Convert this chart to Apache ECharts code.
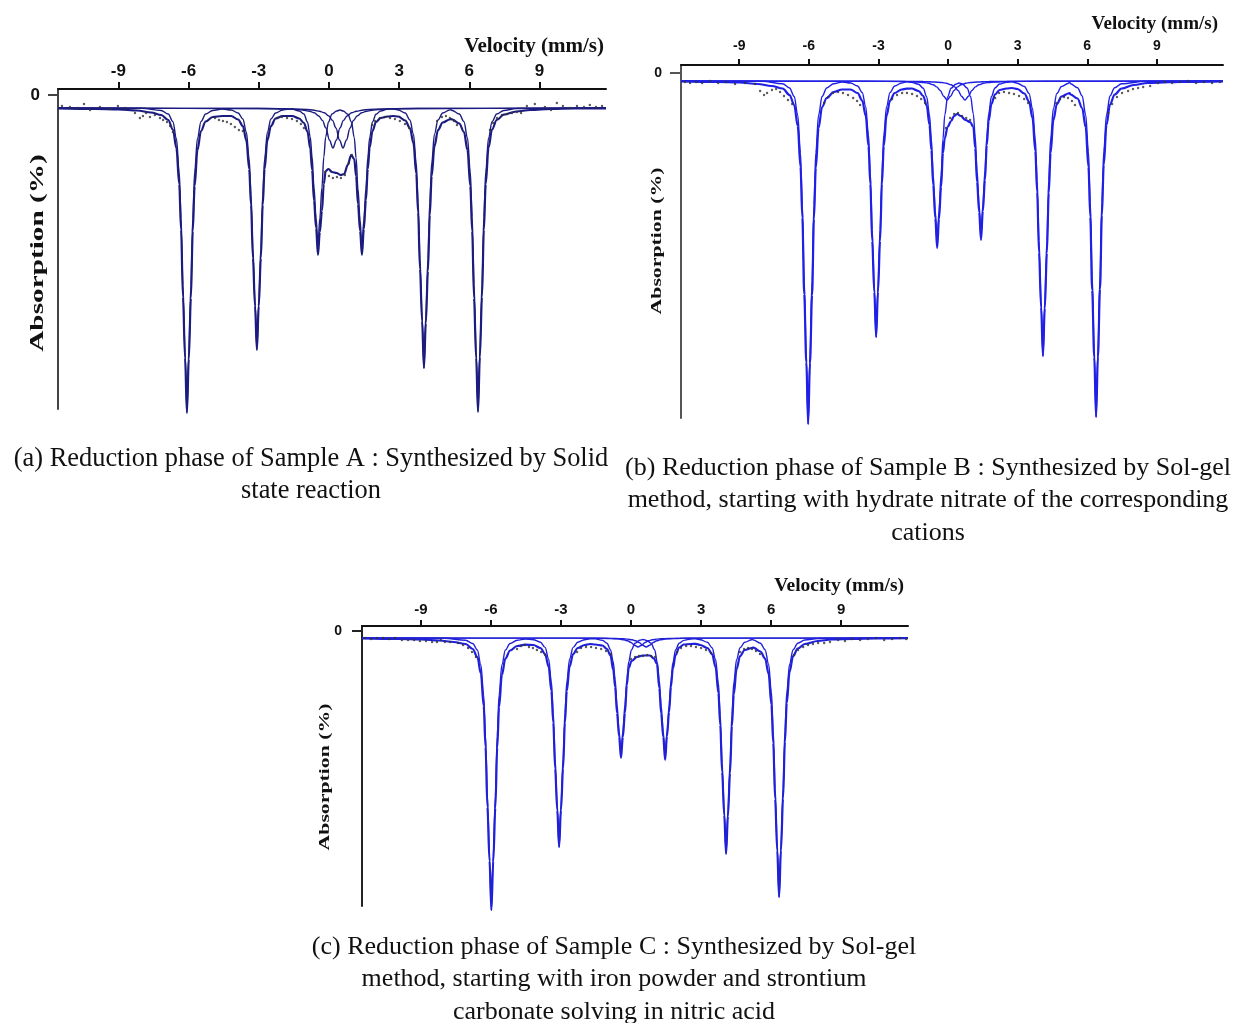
<!DOCTYPE html>
<html>
<head>
<meta charset="utf-8">
<script src="https://cdn.jsdelivr.net/npm/echarts@6/dist/echarts.min.js"></script>
<style>
html,body{margin:0;padding:0;background:#fff;}
#chart{width:1234px;height:1023px;}
</style>
</head>
<body>
<div id="chart"></div>
<script>
// ---------- DATA (velocity mm/s, relative absorption; larger = deeper) ----------
const velocityTicks = [-9, -6, -3, 0, 3, 6, 9];
const absorptionTicks = [0];

// Panel (a) Sample A
const fitA = [[-11.58,1.35],[-10,1.4],[-9,1.45],[-8.2,1.55],[-7.6,1.75],[-7.17,2.0],[-6.87,2.5],[-6.67,3.45],[-6.52,5.3],[-6.40,8.9],[-6.32,13.5],[-6.24,20.2],[-6.15,26.3],[-6.07,31.8],[-5.99,26.4],[-5.90,20.3],[-5.82,13.6],[-5.74,9.1],[-5.62,5.5],[-5.47,3.6],[-5.27,2.65],[-4.97,2.2],[-4.57,2.1],
[-4.18,2.1],[-3.88,2.45],[-3.68,3.1],[-3.53,4.55],[-3.41,7.4],[-3.33,11.0],[-3.25,16.3],[-3.16,21.1],[-3.08,25.5],[-3.00,21.1],[-2.91,16.3],[-2.83,11.0],[-2.75,7.4],[-2.63,4.5],[-2.48,3.1],[-2.28,2.35],[-1.98,2.1],[-1.78,2.1],
[-1.57,2.1],[-1.27,2.35],[-1.07,2.8],[-0.92,3.65],[-0.80,5.35],[-0.72,7.5],[-0.64,10.55],[-0.55,13.3],[-0.47,16.0],[-0.39,13.7],[-0.30,11.6],[-0.22,8.9],[-0.14,7.6],[-0.02,7.4],[0.13,7.7],[0.33,7.8],[0.5,8.0],[0.65,7.9],[0.8,7.0],[0.95,6.0],
[1.08,6.4],[1.16,8.1],[1.24,10.9],[1.33,13.6],[1.41,16.0],[1.49,13.4],[1.58,10.5],[1.66,7.4],[1.74,5.25],[1.86,3.6],[2.01,2.7],[2.21,2.3],[2.51,2.15],[2.735,2.1],
[2.96,2.15],[3.26,2.55],[3.46,3.3],[3.61,4.8],[3.73,7.85],[3.81,11.75],[3.89,17.4],[3.98,22.6],[4.06,27.3],[4.14,22.8],[4.23,17.6],[4.31,12.0],[4.39,8.1],[4.51,5.1],[4.66,3.5],[4.86,2.75],[5.16,2.45],[5.215,2.4],
[5.27,2.45],[5.57,2.85],[5.77,3.7],[5.92,5.5],[6.04,9.1],[6.12,13.6],[6.20,20.3],[6.29,26.3],[6.37,31.7],[6.45,26.2],[6.54,20.2],[6.62,13.5],[6.70,8.9],[6.82,5.25],[6.97,3.45],[7.17,2.5],[7.47,1.97],[8.0,1.65],[8.6,1.5],[9.5,1.4],[10.5,1.35],[11.84,1.33]];
const sextetA = [[-11.58,1.3],[-8,1.32],[-7.17,1.55],[-6.87,1.9],[-6.67,2.67],[-6.52,4.35],[-6.40,7.7],[-6.32,12.3],[-6.24,19.0],[-6.15,25.7],[-6.07,31.6],[-5.99,25.7],[-5.90,19.0],[-5.82,12.3],[-5.74,7.7],[-5.62,4.35],[-5.47,2.67],[-5.27,1.9],[-4.97,1.55],[-4.57,1.4],
[-4.18,1.5],[-3.88,1.8],[-3.68,2.4],[-3.53,3.7],[-3.41,6.4],[-3.33,10.0],[-3.25,15.3],[-3.16,20.7],[-3.08,25.3],[-3.00,20.7],[-2.91,15.3],[-2.83,10.0],[-2.75,6.4],[-2.63,3.7],[-2.48,2.4],[-2.28,1.8],[-1.98,1.5],[-1.78,1.42],
[-1.57,1.4],[-1.27,1.6],[-1.07,1.9],[-0.92,2.7],[-0.80,4.2],[-0.72,6.2],[-0.64,9.25],[-0.55,12.3],[-0.47,15.0],[-0.39,12.3],[-0.30,9.25],[-0.22,6.2],[-0.14,4.2],[-0.02,2.7],[0.13,1.9],[0.33,1.6],[0.47,1.5],
[0.61,1.6],[0.81,1.93],[0.96,2.7],[1.08,4.25],[1.16,6.3],[1.24,9.4],[1.33,12.5],[1.41,15.3],[1.49,12.5],[1.58,9.4],[1.66,6.3],[1.74,4.25],[1.86,2.7],[2.01,1.93],[2.21,1.6],[2.51,1.4],[2.735,1.38],
[2.96,1.5],[3.26,1.8],[3.46,2.5],[3.61,3.9],[3.73,6.8],[3.81,10.7],[3.89,16.4],[3.98,22.1],[4.06,27.3],[4.14,22.1],[4.23,16.4],[4.31,10.7],[4.39,6.8],[4.51,3.9],[4.66,2.5],[4.86,1.8],[5.16,1.5],[5.215,1.48],
[5.27,1.55],[5.57,1.9],[5.77,2.67],[5.92,4.3],[6.04,7.7],[6.12,12.2],[6.20,18.9],[6.29,25.6],[6.37,31.5],[6.45,25.6],[6.54,18.9],[6.62,12.2],[6.70,7.7],[6.82,4.3],[6.97,2.67],[7.17,1.9],[7.47,1.55],[8.0,1.35],[11.84,1.3]];
const doubletA1 = [[-11.58,1.3],[-3,1.35],[-1.63,1.41],[-1.13,1.5],[-0.83,1.62],[-0.63,1.78],[-0.43,2.1],[-0.28,2.54],[-0.13,3.3],[0.02,4.5],[0.17,5.3],[0.32,4.5],[0.47,3.3],[0.62,2.54],[0.77,2.1],[0.97,1.78],[1.17,1.62],[1.47,1.5],[1.97,1.41],[3.3,1.35],[11.84,1.3]];
const doubletA2 = [[-11.58,1.3],[-2.6,1.35],[-1.2,1.41],[-0.7,1.5],[-0.4,1.62],[-0.2,1.78],[0.0,2.1],[0.15,2.54],[0.3,3.3],[0.45,4.5],[0.6,5.3],[0.75,4.5],[0.9,3.3],[1.05,2.54],[1.2,2.1],[1.4,1.78],[1.6,1.62],[1.9,1.5],[2.4,1.41],[3.8,1.35],[11.84,1.3]];
const pointsA = [[-11.41,1.1],[-11.07,1.2],[-10.73,1.3],[-10.47,0.9],[-10.21,1.5],[-9.79,1.2],[-9.36,1.4],[-9.02,1.1],[-8.72,1.3],[-8.29,1.8],[-8.08,2.3],[-7.95,2.1],[-7.82,1.8],[-7.65,2.2],[-7.44,2.0],[-7.22,2.3],[-7.09,2.5],[-6.92,2.7],[-6.79,3.1],[-6.67,3.7],
[-4.87,2.3],[-4.70,2.5],[-4.53,2.6],[-4.36,2.7],[-4.19,2.9],[-4.02,3.2],[-3.85,3.5],[-3.68,3.6],
[-2.22,2.3],[-2.01,2.2],[-1.79,2.3],[-1.58,2.4],[-1.37,2.6],[-1.20,2.9],[-1.07,3.3],
[-0.17,7.7],[0.0,8.1],[0.17,8.3],[0.34,8.2],[0.51,8.3],[0.68,8.0],[0.85,6.8],[0.98,6.0],
[1.84,3.0],[1.97,2.6],[2.18,2.3],[2.39,2.2],[2.61,2.3],[2.82,2.4],[3.03,2.6],[3.25,2.9],[3.42,3.3],
[4.62,2.6],[4.83,2.2],[5.0,2.1],[5.17,2.3],[5.34,2.6],[5.47,3.0],
[6.88,3.5],[7.01,2.8],[7.18,2.3],[7.39,2.0],[7.61,1.9],[7.82,1.8],[8.03,1.7],[8.21,1.8],
[8.46,1.1],[8.80,0.9],[9.23,1.2],[9.49,1.5],[9.74,0.8],[10.0,1.1],[10.3,1.3],[10.6,1.1],[10.9,1.2],[11.15,1.0],[11.41,1.2],[11.67,1.1]];

// Panel (b) Sample B
const fitB = [[-11.51,0.85],[-10,0.9],[-9,0.95],[-8.2,1.1],[-7.6,1.3],[-7.13,1.55],[-6.83,2.2],[-6.63,3.2],[-6.48,5.3],[-6.36,9.4],[-6.28,14.5],[-6.20,22.1],[-6.11,28.9],[-6.03,35.1],[-5.95,29.0],[-5.86,22.2],[-5.78,14.6],[-5.70,9.5],[-5.58,5.5],[-5.43,3.4],[-5.23,2.5],[-4.93,1.9],[-4.565,1.65],
[-4.20,1.65],[-3.90,2.0],[-3.70,2.75],[-3.55,4.25],[-3.43,7.3],[-3.35,11.1],[-3.27,16.8],[-3.18,21.9],[-3.10,26.4],[-3.02,21.9],[-2.93,16.8],[-2.85,11.1],[-2.77,7.3],[-2.65,4.25],[-2.50,2.75],[-2.30,2.0],[-2.00,1.65],[-1.785,1.57],
[-1.57,1.55],[-1.27,1.8],[-1.07,2.3],[-0.92,3.25],[-0.80,5.2],[-0.72,7.7],[-0.64,11.2],[-0.55,14.5],[-0.47,17.5],[-0.39,14.6],[-0.30,11.4],[-0.22,8.0],[-0.14,6.5],[-0.02,5.4],[0.13,4.8],[0.26,4.3],[0.39,4.1],[0.55,4.3],[0.75,4.7],[0.95,4.9],
[1.09,5.4],[1.17,7.5],[1.25,10.9],[1.34,13.9],[1.42,16.7],[1.50,13.8],[1.59,10.7],[1.67,7.2],[1.75,4.8],[1.87,3.1],[2.02,2.15],[2.22,1.7],[2.52,1.55],[2.755,1.5],
[2.99,1.6],[3.29,2.05],[3.49,2.85],[3.64,4.5],[3.76,7.8],[3.84,11.9],[3.92,17.95],[4.01,23.45],[4.09,28.3],[4.17,23.5],[4.26,18.0],[4.34,12.0],[4.42,8.0],[4.54,4.7],[4.69,3.1],[4.89,2.35],[5.19,2.05],[5.235,2.0],
[5.28,2.15],[5.58,2.55],[5.78,3.5],[5.93,5.4],[6.05,9.4],[6.13,14.4],[6.21,21.7],[6.30,28.4],[6.38,34.4],[6.46,28.35],[6.55,21.6],[6.63,14.25],[6.71,9.2],[6.83,5.2],[6.98,3.15],[7.18,2.15],[7.48,1.55],[8.0,1.2],[8.6,1.0],[9.5,0.92],[10.5,0.88],[11.85,0.85]];
const sextetB = [[-11.51,0.8],[-8,0.82],[-7.13,1.07],[-6.83,1.5],[-6.63,2.35],[-6.48,4.2],[-6.36,8.0],[-6.28,13.15],[-6.20,20.7],[-6.11,28.2],[-6.03,35.1],[-5.95,28.2],[-5.86,20.7],[-5.78,13.15],[-5.70,8.0],[-5.58,4.2],[-5.43,2.35],[-5.23,1.5],[-4.93,1.07],[-4.565,0.9],
[-4.20,1.0],[-3.90,1.3],[-3.70,1.95],[-3.55,3.35],[-3.43,6.2],[-3.35,10.0],[-3.27,15.65],[-3.18,21.3],[-3.10,26.4],[-3.02,21.3],[-2.93,15.65],[-2.85,10.0],[-2.77,6.2],[-2.65,3.35],[-2.50,1.95],[-2.30,1.3],[-2.00,1.0],[-1.785,0.88],
[-1.57,0.93],[-1.27,1.12],[-1.07,1.53],[-0.92,2.4],[-0.80,4.2],[-0.72,6.6],[-0.64,10.2],[-0.55,13.8],[-0.47,17.0],[-0.39,13.8],[-0.30,10.2],[-0.22,6.6],[-0.14,4.2],[-0.02,2.4],[0.13,1.53],[0.33,1.12],[0.475,1.0],
[0.62,1.1],[0.82,1.5],[0.97,2.35],[1.09,4.1],[1.17,6.4],[1.25,9.8],[1.34,13.2],[1.42,16.3],[1.50,13.2],[1.59,9.8],[1.67,6.4],[1.75,4.1],[1.87,2.35],[2.02,1.5],[2.22,1.1],[2.52,0.92],[2.755,0.88],
[2.99,1.02],[3.29,1.35],[3.49,2.04],[3.64,3.55],[3.76,6.6],[3.84,10.7],[3.92,16.75],[4.01,22.8],[4.09,28.3],[4.17,22.8],[4.26,16.75],[4.34,10.7],[4.42,6.6],[4.54,3.55],[4.69,2.04],[4.89,1.35],[5.19,1.02],[5.235,0.92],
[5.28,1.07],[5.58,1.47],[5.78,2.3],[5.93,4.16],[6.05,7.86],[6.13,12.9],[6.21,20.3],[6.30,27.7],[6.38,34.4],[6.46,27.7],[6.55,20.3],[6.63,12.9],[6.71,7.86],[6.83,4.16],[6.98,2.3],[7.18,1.47],[7.48,1.07],[8.5,0.82],[11.85,0.8]];
const doubletB1 = [[-11.51,0.8],[-3.5,0.83],[-1.84,0.85],[-1.34,0.9],[-1.04,0.95],[-0.84,1.03],[-0.64,1.18],[-0.49,1.39],[-0.34,1.75],[-0.19,2.32],[-0.04,2.7],[0.11,2.32],[0.26,1.75],[0.41,1.39],[0.56,1.18],[0.76,1.03],[0.96,0.95],[1.26,0.9],[1.76,0.85],[3.4,0.83],[11.85,0.8]];
const doubletB2 = [[-11.51,0.8],[-2.7,0.83],[-1.07,0.85],[-0.57,0.9],[-0.27,0.95],[-0.07,1.03],[0.13,1.18],[0.28,1.39],[0.43,1.75],[0.58,2.32],[0.73,2.7],[0.88,2.32],[1.03,1.75],[1.18,1.39],[1.33,1.18],[1.53,1.03],[1.73,0.95],[2.03,0.9],[2.53,0.85],[4.2,0.83],[11.85,0.8]];
const pointsB = [[-11.34,0.9],[-11.12,1.0],[-10.86,0.9],[-10.6,1.0],[-10.26,0.8],[-9.91,1.0],[-9.57,0.9],[-9.18,1.1],[-8.75,1.0],[-8.32,1.1],[-8.10,1.8],[-7.93,2.2],[-7.80,2.0],[-7.59,1.7],[-7.41,1.6],[-7.24,1.9],[-7.07,2.3],[-6.90,2.7],[-6.72,3.1],
[-5.34,3.0],[-5.17,2.4],[-4.96,2.0],[-4.74,1.9],[-4.53,2.0],[-4.31,2.2],[-4.09,2.5],[-3.92,2.8],[-3.79,3.2],
[-2.41,2.6],[-2.2,2.2],[-1.98,2.0],[-1.77,2.0],[-1.55,2.1],[-1.34,2.3],[-1.16,2.6],[-0.99,3.0],
[-0.09,5.5],[0.09,4.5],[0.26,4.1],[0.43,4.0],[0.6,4.3],[0.78,4.5],[0.95,4.7],
[2.03,2.5],[2.2,2.0],[2.41,1.9],[2.63,2.0],[2.84,2.1],[3.06,2.3],[3.28,2.6],[3.45,3.0],
[4.66,3.0],[4.83,2.6],[5.0,2.4],[5.17,2.5],[5.34,2.8],[5.47,3.2],
[6.9,4.0],[7.07,3.1],[7.28,2.4],[7.5,2.0],[7.76,1.8],[7.97,1.6],[8.19,1.5],[8.41,1.4],[8.71,1.3],
[9.05,1.0],[9.35,0.9],[9.66,1.0],[10.0,0.9],[10.34,0.8],[10.69,1.0],[11.03,0.9],[11.38,1.0],[11.72,0.9]];

// Panel (c) Sample C
const fitC = [[-11.52,0.75],[-10,0.8],[-9,0.85],[-8.2,0.95],[-7.6,1.1],[-7.08,1.3],[-6.78,1.8],[-6.58,2.6],[-6.43,4.25],[-6.31,7.5],[-6.23,11.6],[-6.15,17.6],[-6.06,23.0],[-5.98,27.9],[-5.90,23.05],[-5.81,17.7],[-5.73,11.7],[-5.65,7.6],[-5.53,4.4],[-5.38,2.75],[-5.18,1.95],[-4.88,1.5],[-4.53,1.37],
[-4.18,1.4],[-3.88,1.7],[-3.68,2.3],[-3.53,3.55],[-3.41,6.0],[-3.33,9.15],[-3.25,13.75],[-3.16,17.9],[-3.08,21.6],[-3.00,17.9],[-2.91,13.75],[-2.83,9.15],[-2.75,6.0],[-2.63,3.55],[-2.48,2.3],[-2.28,1.7],[-1.98,1.4],[-1.755,1.3],
[-1.53,1.35],[-1.23,1.45],[-1.03,1.8],[-0.88,2.45],[-0.76,3.9],[-0.68,5.6],[-0.60,8.2],[-0.51,10.55],[-0.43,12.7],[-0.35,10.6],[-0.26,8.2],[-0.18,5.4],[-0.10,3.7],[0.02,3.0],[0.26,2.6],[0.5,2.45],[0.81,2.45],[0.98,2.75],[1.11,3.3],
[1.21,5.7],[1.29,8.25],[1.38,10.6],[1.46,12.9],[1.54,10.5],[1.63,8.1],[1.71,5.55],[1.79,3.75],[1.91,2.4],[2.06,1.65],[2.26,1.35],[2.56,1.3],[2.765,1.28],
[2.97,1.4],[3.27,1.7],[3.47,2.3],[3.62,3.6],[3.74,6.2],[3.82,9.4],[3.90,14.1],[3.99,18.4],[4.07,22.3],[4.15,18.5],[4.24,14.2],[4.32,9.5],[4.40,6.35],[4.52,3.8],[4.67,2.5],[4.87,1.9],[5.17,1.7],[5.205,1.65],
[5.24,1.67],[5.54,2.05],[5.74,2.75],[5.89,4.25],[6.01,7.35],[6.09,11.2],[6.17,16.8],[6.26,21.95],[6.34,26.6],[6.42,21.95],[6.51,16.75],[6.59,11.1],[6.67,7.2],[6.79,4.05],[6.94,2.5],[7.14,1.75],[7.44,1.3],[8.0,1.0],[8.6,0.85],[9.5,0.78],[10.5,0.74],[11.86,0.72]];
const sextetC = [[-11.52,0.7],[-8,0.72],[-7.08,0.92],[-6.78,1.25],[-6.58,1.9],[-6.43,3.4],[-6.31,6.4],[-6.23,10.5],[-6.15,16.5],[-6.06,22.5],[-5.98,27.9],[-5.90,22.5],[-5.81,16.5],[-5.73,10.5],[-5.65,6.4],[-5.53,3.4],[-5.38,1.9],[-5.18,1.25],[-4.88,0.92],[-4.53,0.8],
[-4.18,0.87],[-3.88,1.12],[-3.68,1.64],[-3.53,2.8],[-3.41,5.1],[-3.33,8.2],[-3.25,12.8],[-3.16,17.4],[-3.08,21.6],[-3.00,17.4],[-2.91,12.8],[-2.83,8.2],[-2.75,5.1],[-2.63,2.8],[-2.48,1.64],[-2.28,1.12],[-1.98,0.87],[-1.755,0.78],
[-1.53,0.79],[-1.23,0.93],[-1.03,1.22],[-0.88,1.86],[-0.76,3.1],[-0.68,4.9],[-0.60,7.4],[-0.51,10.0],[-0.43,12.3],[-0.35,10.0],[-0.26,7.4],[-0.18,4.9],[-0.10,3.1],[0.02,1.86],[0.17,1.22],[0.37,0.93],[0.515,0.85],
[0.66,0.94],[0.86,1.23],[1.01,1.88],[1.13,3.2],[1.21,4.95],[1.29,7.5],[1.38,10.1],[1.46,12.5],[1.54,10.1],[1.63,7.5],[1.71,4.95],[1.79,3.2],[1.91,1.88],[2.06,1.23],[2.26,0.94],[2.56,0.8],[2.765,0.78],
[2.97,0.87],[3.27,1.13],[3.47,1.67],[3.62,2.85],[3.74,5.2],[3.82,8.4],[3.90,13.2],[3.99,17.9],[4.07,22.2],[4.15,17.9],[4.24,13.2],[4.32,8.4],[4.40,5.2],[4.52,2.85],[4.67,1.67],[4.87,1.13],[5.17,0.87],[5.205,0.86],
[5.24,0.9],[5.54,1.22],[5.74,1.87],[5.89,3.3],[6.01,6.1],[6.09,10.0],[6.17,15.7],[6.26,21.4],[6.34,26.6],[6.42,21.4],[6.51,15.7],[6.59,10.0],[6.67,6.1],[6.79,3.3],[6.94,1.87],[7.14,1.22],[7.44,0.9],[8.0,0.75],[11.86,0.7]];
const doubletC1 = [[-11.52,0.7],[-3.2,0.71],[-1.5,0.72],[-1.0,0.75],[-0.7,0.77],[-0.5,0.81],[-0.3,0.88],[-0.15,0.98],[0.0,1.15],[0.15,1.42],[0.3,1.6],[0.45,1.42],[0.6,1.15],[0.75,0.98],[0.9,0.88],[1.1,0.81],[1.3,0.77],[1.6,0.75],[2.1,0.72],[3.8,0.71],[11.86,0.7]];
const doubletC2 = [[-11.52,0.7],[-2.85,0.71],[-1.15,0.72],[-0.65,0.75],[-0.35,0.77],[-0.15,0.81],[0.05,0.88],[0.2,0.98],[0.35,1.15],[0.5,1.42],[0.65,1.6],[0.8,1.42],[0.95,1.15],[1.1,0.98],[1.25,0.88],[1.45,0.81],[1.65,0.77],[1.95,0.75],[2.45,0.72],[4.15,0.71],[11.86,0.7]];
const pointsC = [[-11.39,0.7],[-11.13,0.8],[-10.88,0.7],[-10.62,0.7],[-10.36,0.8],[-10.11,0.7],[-9.81,0.9],[-9.55,0.9],[-9.29,0.9],[-9.04,1.0],[-8.78,1.0],[-8.52,1.1],[-8.31,1.1],[-8.14,0.9],[-7.97,1.1],[-7.75,1.1],[-7.41,1.2],[-7.19,1.4],[-6.98,1.7],[-6.81,2.1],[-6.64,2.6],
[-4.88,1.8],[-4.71,1.5],[-4.54,1.4],[-4.37,1.6],[-4.2,1.7],[-4.03,1.9],[-3.85,2.1],[-3.68,2.4],
[-2.31,2.1],[-2.14,1.7],[-1.93,1.6],[-1.71,1.6],[-1.5,1.7],[-1.28,1.8],[-1.07,2.0],[-0.86,2.3],
[0.0,2.8],[0.17,2.6],[0.34,2.5],[0.51,2.5],[0.69,2.4],[0.86,2.5],[1.03,2.6],
[1.97,2.1],[2.14,1.7],[2.36,1.5],[2.57,1.5],[2.78,1.6],[3.0,1.7],[3.21,1.9],[3.43,2.2],
[4.67,2.1],[4.84,1.8],[5.01,1.7],[5.18,1.8],[5.35,2.0],[5.52,2.3],
[6.98,2.4],[7.15,1.9],[7.37,1.6],[7.58,1.4],[7.79,1.3],[8.01,1.2],[8.27,1.2],[8.52,1.1],
[8.87,0.9],[9.16,1.0],[9.46,0.8],[9.81,0.9],[10.15,0.8],[10.49,0.7],[10.84,0.9],[11.18,0.8],[11.52,0.7],[11.78,0.8]];

const velocityTitle = 'Velocity (mm/s)';
const absorptionTitle = 'Absorption (%)';
const captionsA = ['(a) Reduction phase of Sample A : Synthesized by Solid', 'state reaction'];
const captionsB = ['(b) Reduction phase of Sample B : Synthesized by Sol-gel', 'method, starting with hydrate nitrate of the corresponding', 'cations'];
const captionsC = ['(c) Reduction phase of Sample C : Synthesized by Sol-gel', 'method, starting with iron powder and strontium', 'carbonate solving in nitric acid'];

// ---------- LAYOUT / STYLE ----------
const panels = [
  {grid:{left:58, top:89, width:548, height:320}, xmin:-11.58, xmax:11.84, ymin:-0.6, ymax:31.4,
   color:'#1c1c80', tickFont:17, zeroFont:17, xLblMargin:9, xTick:7, yLblMargin:18, yTick:10, xLineColor:'#111', yLineColor:'#444',
   fit:fitA, sextet:sextetA, d1:doubletA1, d2:doubletA2, pts:pointsA},
  {grid:{left:681, top:65, width:542, height:353}, xmin:-11.51, xmax:11.85, ymin:-0.8, ymax:34.5,
   color:'#1f1fe6', tickFont:14, zeroFont:14, xLblMargin:12, xTick:6, yLblMargin:19, yTick:11, xLineColor:'#111', yLineColor:'#555',
   fit:fitB, sextet:sextetB, d1:doubletB1, d2:doubletB2, pts:pointsB},
  {grid:{left:362, top:626, width:546, height:280}, xmin:-11.52, xmax:11.86, ymin:-0.5, ymax:27.5,
   color:'#2020d8', tickFont:15, zeroFont:14, xLblMargin:9, xTick:6, yLblMargin:20, yTick:10, xLineColor:'#111', yLineColor:'#222',
   fit:fitC, sextet:sextetC, d1:doubletC1, d2:doubletC2, pts:pointsC}
];

const grids = [], xAxes = [], yAxes = [], series = [];
panels.forEach((p, i) => {
  grids.push(Object.assign({containLabel:false}, p.grid));
  xAxes.push({
    gridIndex:i, type:'value', position:'top', min:p.xmin, max:p.xmax,
    axisLine:{show:true, onZero:false, lineStyle:{color:p.xLineColor, width:2}},
    axisTick:{show:true, inside:false, length:p.xTick, customValues:velocityTicks, lineStyle:{color:p.xLineColor, width:2}},
    axisLabel:{show:true, customValues:velocityTicks, margin:p.xLblMargin, fontSize:p.tickFont, fontWeight:'bold', color:'#111', fontFamily:'Liberation Sans, Arial, sans-serif'},
    splitLine:{show:false}
  });
  yAxes.push({
    gridIndex:i, type:'value', inverse:true, min:p.ymin, max:p.ymax,
    axisLine:{show:true, onZero:false, lineStyle:{color:p.yLineColor, width:2}},
    axisTick:{show:true, inside:false, length:p.yTick, customValues:absorptionTicks, lineStyle:{color:p.yLineColor, width:2}},
    axisLabel:{show:true, customValues:absorptionTicks, margin:p.yLblMargin, fontSize:p.zeroFont, fontWeight:'bold', color:'#111', fontFamily:'Liberation Sans, Arial, sans-serif'},
    splitLine:{show:false}
  });
  const lineBase = {type:'line', xAxisIndex:i, yAxisIndex:i, showSymbol:false, symbol:'none', smooth:0.35, smoothMonotone:'x', clip:false, silent:true};
  series.push(Object.assign({}, lineBase, {name:'doublet1-'+i, data:p.d1, lineStyle:{color:p.color, width:1.4}, z:2}));
  series.push(Object.assign({}, lineBase, {name:'doublet2-'+i, data:p.d2, lineStyle:{color:p.color, width:1.4}, z:2}));
  series.push(Object.assign({}, lineBase, {name:'sextet-'+i, data:p.sextet, lineStyle:{color:p.color, width:1.4}, z:3}));
  series.push(Object.assign({}, lineBase, {name:'fit-'+i, data:p.fit, lineStyle:{color:p.color, width:2.2}, z:4}));
  series.push({type:'scatter', name:'data-'+i, xAxisIndex:i, yAxisIndex:i, data:p.pts, symbol:'circle', symbolSize:2.4, itemStyle:{color:'#333'}, clip:false, silent:true, z:5});
});

function txt(x, y, s, font, opts) {
  return Object.assign({type:'text', x:x, y:y, silent:true,
    style:{text:s, font:font, fill:'#111', textAlign:'center', textVerticalAlign:'middle'}}, opts || {});
}
function rtxt(x, y, s, font) {
  return {type:'text', x:x, y:y, silent:true, style:{text:s, font:font, fill:'#111', textAlign:'right', textVerticalAlign:'middle'}};
}
const serif = '"Liberation Serif", "Times New Roman", serif';
const graphics = [
  rtxt(604, 47, velocityTitle, 'bold 21px ' + serif),
  rtxt(1218, 24, velocityTitle, 'bold 19px ' + serif),
  rtxt(904, 586, velocityTitle, 'bold 19.5px ' + serif),
  txt(38, 253, absorptionTitle, 'bold 19px ' + serif, {rotation:Math.PI/2, scaleX:1.54}),
  txt(657, 241, absorptionTitle, 'bold 15px ' + serif, {rotation:Math.PI/2, scaleX:1.45}),
  txt(325, 777, absorptionTitle, 'bold 15px ' + serif, {rotation:Math.PI/2, scaleX:1.45})
];
const capLineH = 32.5;
captionsA.forEach((s, k) => graphics.push(txt(311, 459 + k*capLineH, s, '26.4px ' + serif)));
captionsB.forEach((s, k) => graphics.push(txt(928, 468 + k*capLineH, s, '26px ' + serif)));
captionsC.forEach((s, k) => graphics.push(txt(614, 947 + k*capLineH, s, '26px ' + serif)));

const chart = echarts.init(document.getElementById('chart'), null, {renderer:'canvas'});
chart.setOption({
  animation:false,
  backgroundColor:'#ffffff',
  grid:grids, xAxis:xAxes, yAxis:yAxes, series:series,
  graphic:graphics
});
</script>
</body>
</html>
